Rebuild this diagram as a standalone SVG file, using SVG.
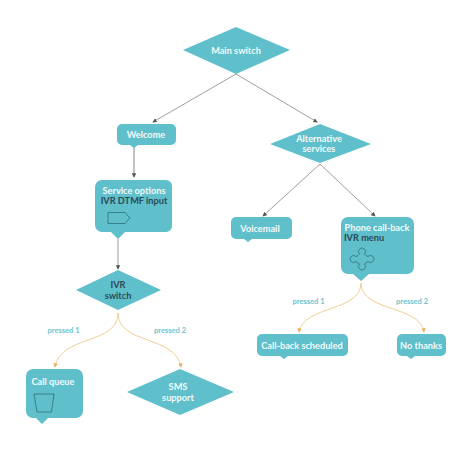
<svg xmlns="http://www.w3.org/2000/svg" width="474" height="451" viewBox="0 0 474 451">
<style>
text{font-family:"Lato","Open Sans","Liberation Sans",sans-serif;font-size:9.200px;font-weight:700;text-anchor:middle}
.s{fill:#5fbfca}
.w{fill:#f2fbfc}
.d{fill:#2c4a58}
.l{font-size:7.500px;fill:#6cc4cf;font-weight:700}
.c{fill:none;stroke:#939393;stroke-width:.9;marker-end:url(#g)}
.o{fill:none;stroke:#f0cf96;stroke-width:1;marker-end:url(#y)}
.i{fill:none;stroke:#2f6f7c;stroke-width:.8}
</style>
<defs>
<marker id="g" viewBox="0 0 6 6" refX="5" refY="3" markerWidth="4.500" markerHeight="4.500" markerUnits="userSpaceOnUse" orient="auto"><path d="M0 0L6 3L0 6Z" fill="#555"/></marker>
<marker id="y" viewBox="0 0 6 6" refX="5" refY="3" markerWidth="4.500" markerHeight="4.500" markerUnits="userSpaceOnUse" orient="auto"><path d="M0 0L6 3L0 6Z" fill="#e8b35f"/></marker>
</defs>
<rect width="474" height="451" fill="#fff"/>
<g id="connectors">
<path class="c" d="M236 74L153 122"/>
<path class="c" d="M236 74L317 122"/>
<path class="c" style="stroke:#aaa;stroke-width:1.400" d="M134 147V177"/>
<path class="c" d="M118 239V269"/>
<path class="c" d="M320 164L263 216"/>
<path class="c" d="M320 164L375 216"/>
<path class="o" d="M118 313C118 345 60 335 55 367"/>
<path class="o" d="M118 313C118 345 176 335 181 367"/>
<path class="o" d="M361 283C361 312 304 305 299 332"/>
<path class="o" d="M361 283C361 312 420 305 424 332"/>
</g>
<g id="main-switch"><path class="s" d="M183 50L236 27L290 50L236 74Z"/><text class="w" x="236" y="53.500">Main switch</text></g>
<g id="welcome"><path class="s" d="M122 124H171a5 5 0 0 1 5 5V140a5 5 0 0 1-5 5H138L134 148L130 145H122a5 5 0 0 1-5-5V129a5 5 0 0 1 5-5Z"/><text class="w" x="146" y="137.500">Welcome</text></g>
<g id="service-options"><path class="s" d="M102 180H166a6 6 0 0 1 6 6V226a6 6 0 0 1-6 6H125L118 239L111 232H102a7 7 0 0 1-7-7V187a7 7 0 0 1 7-7Z"/><text class="w" x="134" y="193.500">Service options</text><text class="d" x="134" y="203.500">IVR DTMF input</text><path class="i" d="M108 212.500H125L130 218L125 223.500H108Z"/></g>
<g id="ivr-switch"><path class="s" d="M76 290L118 270L161 290L118 310Z"/><text class="d" x="118" y="288">IVR</text><text class="d" x="118" y="298.500">switch</text></g>
<g id="call-queue"><path class="s" d="M33 369H76a7 7 0 0 1 7 7V411a7 7 0 0 1-7 7H48L42 424L36 418H33a7 7 0 0 1-7-7V376a7 7 0 0 1 7-7Z"/><text class="w" x="53" y="384.500">Call queue</text><path class="i" d="M34 394H54L51.500 412H37Z"/></g>
<g id="sms-support"><path class="s" d="M127 392L180 369L234 392L180 415Z"/><text class="w" x="178" y="390">SMS</text><text class="w" x="178" y="400.500">support</text></g>
<g id="alternative-services"><path class="s" d="M270 144L320 124L371 144L320 163Z"/><text class="w" x="319" y="142">Alternative</text><text class="w" x="319" y="152">services</text></g>
<g id="voicemail"><path class="s" d="M236 217H287a5 5 0 0 1 5 5V234a5 5 0 0 1-5 5H252L248 242L244 239H236a5 5 0 0 1-5-5V222a5 5 0 0 1 5-5Z"/><text class="w" x="260" y="231.500">Voicemail</text></g>
<g id="phone-call-back"><path class="s" d="M348 217H407a7 7 0 0 1 7 7V267a7 7 0 0 1-7 7H369L361 281L353 274H348a7 7 0 0 1-7-7V224a7 7 0 0 1 7-7Z"/><text class="w" x="377" y="231">Phone call-back</text><text class="d" x="364" y="240.500">IVR menu</text><path class="i" stroke-linejoin="round" d="M359.500 254a3.500 3.500 0 1 1 5 0L366 255.500L368 256.500a3.500 3.500 0 1 1 0 5L366 263L364.500 264a3.500 3.500 0 1 1-5 0L358 263L356 261.500a3.500 3.500 0 1 1 0-5L358 255.500Z"/></g>
<g id="call-back-scheduled"><path class="s" d="M262 334H343a5 5 0 0 1 5 5V351a5 5 0 0 1-5 5H288L284 359L280 356H262a5 5 0 0 1-5-5V339a5 5 0 0 1 5-5Z"/><text class="w" x="302" y="348.500">Call-back scheduled</text></g>
<g id="no-thanks"><path class="s" d="M402 334H441a5 5 0 0 1 5 5V351a5 5 0 0 1-5 5H415L411 359L407 356H402a5 5 0 0 1-5-5V339a5 5 0 0 1 5-5Z"/><text class="w" x="421" y="348.500">No thanks</text></g>
<g id="labels">
<text class="l" x="63.500" y="333">pressed 1</text>
<text class="l" x="170" y="333">pressed 2</text>
<text class="l" x="308.500" y="304">pressed 1</text>
<text class="l" x="412" y="304">pressed 2</text>
</g>
</svg>
